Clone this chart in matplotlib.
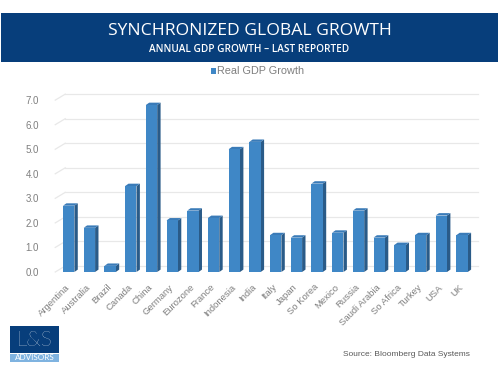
import matplotlib.pyplot as plt
from matplotlib.patches import Rectangle, Polygon

countries = ['Argentina', 'Australia', 'Brazil', 'Canada', 'China', 'Germany', 'Eurozone',
             'France', 'Indonesia', 'India', 'Italy', 'Japan', 'So Korea', 'Mexico', 'Russia',
             'Saudi Arabia', 'So Africa', 'Turkey', 'USA', 'UK']
gdp_growth = [2.7, 1.8, 0.25, 3.5, 6.8, 2.1, 2.5, 2.2, 5.0, 5.3,
              1.5, 1.4, 3.6, 1.6, 2.5, 1.4, 1.1, 1.5, 2.3, 1.5]
y_ticks = [0, 1, 2, 3, 4, 5, 6, 7]

navy = '#073e7b'
front_col = '#3f87c6'
side_col = '#2a5b88'
top_col = '#3a7bb8'
grey_txt = '#7f7f7f'

fig = plt.figure(figsize=(4.99, 3.74), dpi=100)

# header band
fig.patches.append(Rectangle((0.002, 1 - 62 / 374), 0.996, 49 / 374, transform=fig.transFigure,
                             facecolor=navy, edgecolor='none'))
fig.text(0.5, 1 - 31 / 374, 'SYNCHRONIZED GLOBAL GROWTH', color='white', fontsize=12.6,
         ha='center', va='center', family='Open Sans', fontweight='medium')
fig.text(0.5, 1 - 49 / 374, 'ANNUAL GDP GROWTH \u2013 LAST REPORTED', color='white', fontsize=7.2,
         ha='center', va='center', family='Open Sans', fontweight='semibold')

# legend
fig.patches.append(Rectangle((211 / 499, 1 - 73.5 / 374), 5 / 499, 5 / 374, transform=fig.transFigure,
                             facecolor=front_col, edgecolor='none'))
fig.text(217 / 499, 1 - 70.5 / 374, 'Real GDP Growth', color=grey_txt, fontsize=7.8,
         ha='left', va='center', family='Liberation Sans')

ax = fig.add_axes([54.2 / 499, (374 - 272) / 374, (476.5 - 54.2) / 499, 178 / 374])
ax.set_xlim(-0.7, 19.7)
ax.set_ylim(0, 7.25)
for s in ax.spines.values():
    s.set_visible(False)

# depth offsets in data units
gdx, gdy = 10 / 20.7, 6 / 24.57
bdx, bdy = 3.4 / 20.7, 2.4 / 24.57
w = 0.55

# gridlines on the back wall
for t in y_ticks:
    ax.plot([-0.65 + gdx, 19.3 + gdx], [t + gdy, t + gdy], color='#e8e8e8', lw=0.9,
            clip_on=False, zorder=0)
    ax.plot([-0.65, -0.65 + gdx], [t, t + gdy], color='#e8e8e8', lw=0.9,
            clip_on=False, zorder=0)

# 3d-looking bars
for i, v in enumerate(gdp_growth):
    x0, x1 = i - w / 2, i + w / 2
    ax.add_patch(Polygon([(x1, 0), (x1 + bdx, bdy), (x1 + bdx, v + bdy), (x1, v)],
                         facecolor=side_col, edgecolor='none', zorder=2))
    ax.add_patch(Polygon([(x0, v), (x1, v), (x1 + bdx, v + bdy), (x0 + bdx, v + bdy)],
                         facecolor=top_col, edgecolor='none', zorder=2))
    ax.add_patch(Rectangle((x0, 0), w, v, facecolor=front_col, edgecolor='none', zorder=3))

ax.set_yticks(y_ticks)
ax.set_yticklabels(['%.1f' % t for t in y_ticks], color=grey_txt, fontsize=7,
                   family='Liberation Sans')
ax.set_xticks(range(len(countries)))
ax.set_xticklabels(countries, rotation=45, ha='right', va='center', rotation_mode='anchor',
                   color=grey_txt, fontsize=6.8, family='Liberation Sans')
ax.tick_params(axis='both', length=0)
ax.tick_params(axis='y', pad=11)
ax.tick_params(axis='x', pad=10)

# logo
fig.patches.append(Rectangle((10 / 499, 1 - 353 / 374), 49 / 499, 27 / 374, transform=fig.transFigure,
                             facecolor=navy, edgecolor='none'))
fig.patches.append(Rectangle((10 / 499, 1 - 362 / 374), 49 / 499, 8.5 / 374, transform=fig.transFigure,
                             facecolor='#7fb3e0', edgecolor='none'))
fig.text(34.5 / 499, 1 - 340 / 374, 'L&S', color='white', fontsize=15, ha='center', va='center',
         family='Lato', fontweight='light')
fig.text(34.5 / 499, 1 - 358 / 374, 'ADVISORS', color='white', fontsize=5.9, ha='center', va='center',
         family='Lato')

fig.text(343 / 499, 1 - 355 / 374, 'Source: Bloomberg Data Systems', color='#595959', fontsize=6,
         ha='left', va='center', family='Liberation Sans')

fig.savefig('out.png', dpi=100)
